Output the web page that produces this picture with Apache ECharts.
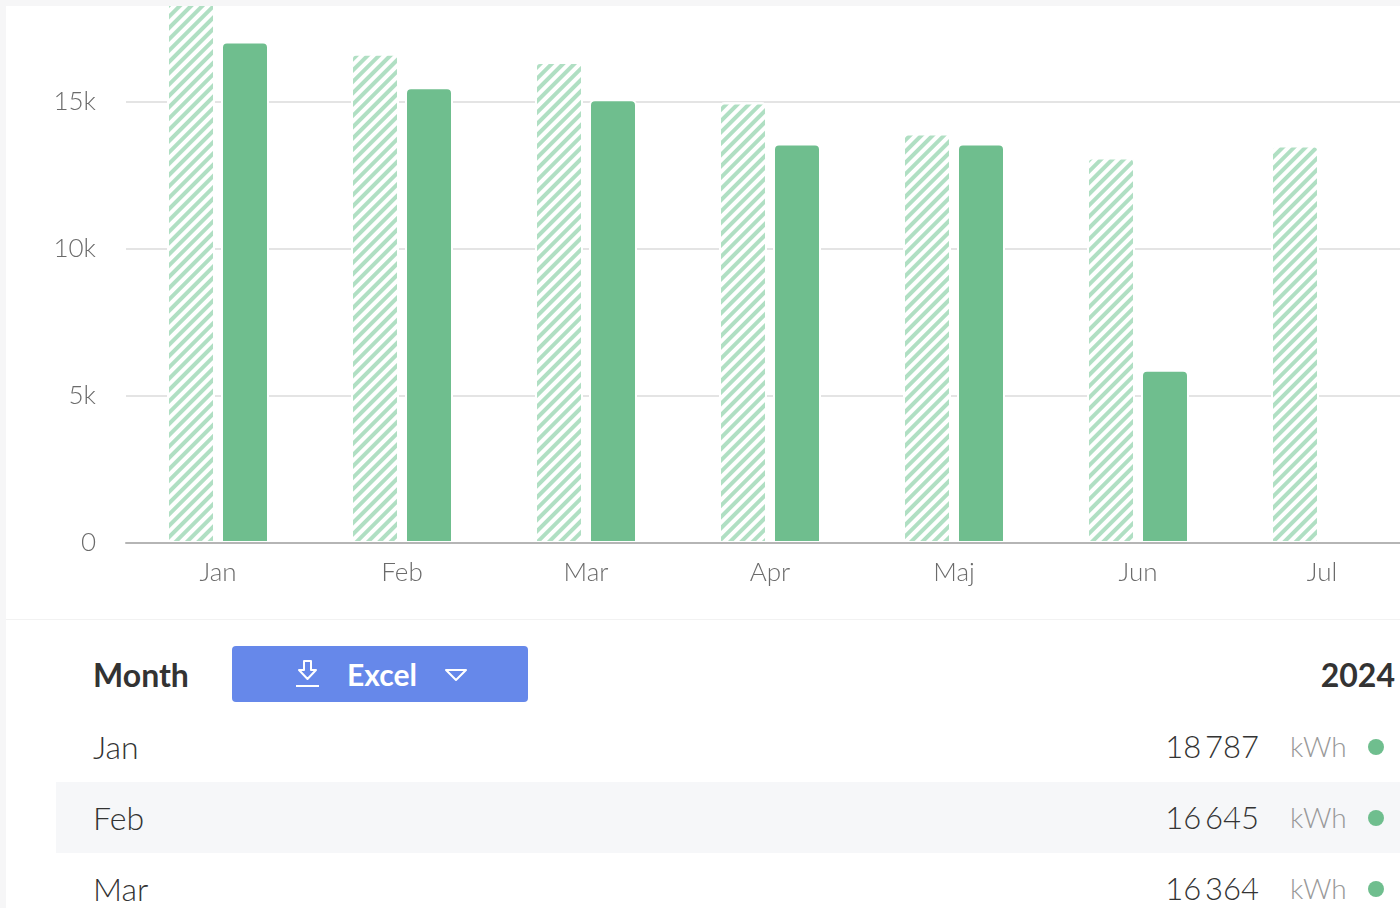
<!DOCTYPE html>
<html>
<head>
<meta charset="utf-8">
<script src="https://cdn.jsdelivr.net/npm/echarts@6/dist/echarts.min.js"></script>
<style>
  html, body { margin:0; padding:0; width:1400px; height:908px; overflow:hidden; background:#f6f6f7;
    font-family: "Source Sans Pro", Lato, "Open Sans", sans-serif; }
  #card { position:absolute; left:6px; top:6px; width:1394px; height:902px; background:#fff; overflow:hidden; }
  #chart { position:absolute; left:-6px; top:-106px; width:1420px; height:720px; }
  #divider { position:absolute; left:0; top:613px; width:1394px; height:1px; background:#f2f2f2; }
  .abs { position:absolute; }
  #hdrMonth { left:87px; top:646px; font-size:32px; font-weight:700; color:#333; line-height:46px; }
  #excel { left:226px; top:640px; width:296px; height:56px; background:#6688ea; border-radius:4px; color:#fff;
    font-size:30px; font-weight:700; }
  #excel .txt { position:absolute; left:115px; top:0; line-height:56px; }
  #excel svg { position:absolute; }
  #hdrYear { right:5px; top:646px; font-size:32px; font-weight:700; color:#333; line-height:46px; }
  .row { position:absolute; left:50px; width:1400px; height:71px; }
  .row.alt { background:#f6f7f9; }
  .row .m { position:absolute; left:37px; top:0; line-height:71px; font-size:32px; font-weight:300; color:#333; }
  .row .v { position:absolute; right:197px; top:0; line-height:71px; font-size:31px; font-weight:300; color:#333; }
  .row .u { position:absolute; left:1234px; top:0; line-height:71px; font-size:28px; font-weight:300; color:#999; }
  .row .d { position:absolute; left:1312px; top:28px; width:16px; height:16px; border-radius:50%; background:#6fbe8e; }
</style>
</head>
<body>
<div id="card">
  <div id="chart"></div>
  <div id="divider"></div>
  <div class="abs" id="hdrMonth">Month</div>
  <div class="abs" id="excel">
    <svg style="left:62px;top:13px" width="28" height="30" viewBox="0 0 28 30">
      <path d="M10 2 H17 V11 H22 L13.5 20 L5 11 H10 Z" fill="none" stroke="#fff" stroke-width="2" stroke-linejoin="round"/>
      <line x1="2" y1="27" x2="25" y2="27" stroke="#fff" stroke-width="2"/>
    </svg>
    <span class="txt">Excel</span>
    <svg style="left:212px;top:22px" width="24" height="14" viewBox="0 0 24 14">
      <path d="M2 2 H22 L12 12 Z" fill="none" stroke="#fff" stroke-width="2" stroke-linejoin="round"/>
    </svg>
  </div>
  <div class="abs" id="hdrYear">2024</div>
  <div id="rows"></div>
</div>
<script>
// ---- data ----
var months = ['Jan', 'Feb', 'Mar', 'Apr', 'Maj', 'Jun', 'Jul'];
var values2024 = [18787, 16645, 16364, 14980, 13930, 13110, 13520];
var valuesPrev = [17060, 15500, 15090, 13590, 13590, 5890, null];
var yTickValues = [0, 5000, 10000, 15000, 20000];
var yTickLabels = ['0', '5k', '10k', '15k', '20k'];
var tableYear = '2024';
var unit = 'kWh';

var chart = echarts.init(document.getElementById('chart'));
var font = '"Source Sans Pro", Lato, "Open Sans", sans-serif';
chart.setOption({
  animation: false,
  grid: { left: 126, right: 6, top: 55, bottom: 77, containLabel: false },
  xAxis: {
    type: 'category', data: months, z: 5,
    axisLine: { lineStyle: { color: '#b5b5b5', width: 2 } },
    axisTick: { show: false },
    axisLabel: { color: '#6b6b6b', fontSize: 26, fontWeight: 300, fontFamily: font, margin: 17 }
  },
  yAxis: {
    type: 'value', min: 0, max: 20000, interval: 5000,
    axisLine: { show: false }, axisTick: { show: false },
    splitLine: { lineStyle: { color: '#e4e4e4', width: 2 } },
    axisLabel: {
      color: '#6b6b6b', fontSize: 26, fontWeight: 300, fontFamily: font, margin: 30,
      formatter: function (v) { var i = yTickValues.indexOf(v); return i >= 0 ? yTickLabels[i] : ''; }
    }
  },
  series: [
    {
      name: tableYear, type: 'bar', data: values2024, barWidth: 48, barGap: '12.5%',
      itemStyle: {
        color: '#ffffff', borderColor: '#fff', borderWidth: 2, borderRadius: [4, 4, 0, 0],
        decal: {
          symbol: 'rect', symbolSize: 1, color: '#b0dfc3',
          dashArrayX: [1, 0], dashArrayY: [3.1, 3.1], rotation: -Math.PI / 4
        }
      }
    },
    {
      name: 'prev', type: 'bar', data: valuesPrev, barWidth: 48,
      itemStyle: { color: '#6fbe8e', borderColor: '#fff', borderWidth: 2, borderRadius: [5, 5, 0, 0] }
    }
  ]
});

// ---- table ----
function fmt(v) { return String(v).replace(/\B(?=(\d{3})+(?!\d))/g, '\u2009'); }
var rowsEl = document.getElementById('rows');
months.forEach(function (m, i) {
  var r = document.createElement('div');
  r.className = 'row' + (i % 2 === 1 ? ' alt' : '');
  r.style.top = (705 + i * 71) + 'px';
  r.innerHTML = '<span class="m">' + m + '</span><span class="v">' + fmt(values2024[i]) +
    '</span><span class="u">' + unit + '</span><span class="d"></span>';
  rowsEl.appendChild(r);
});
</script>
</body>
</html>
